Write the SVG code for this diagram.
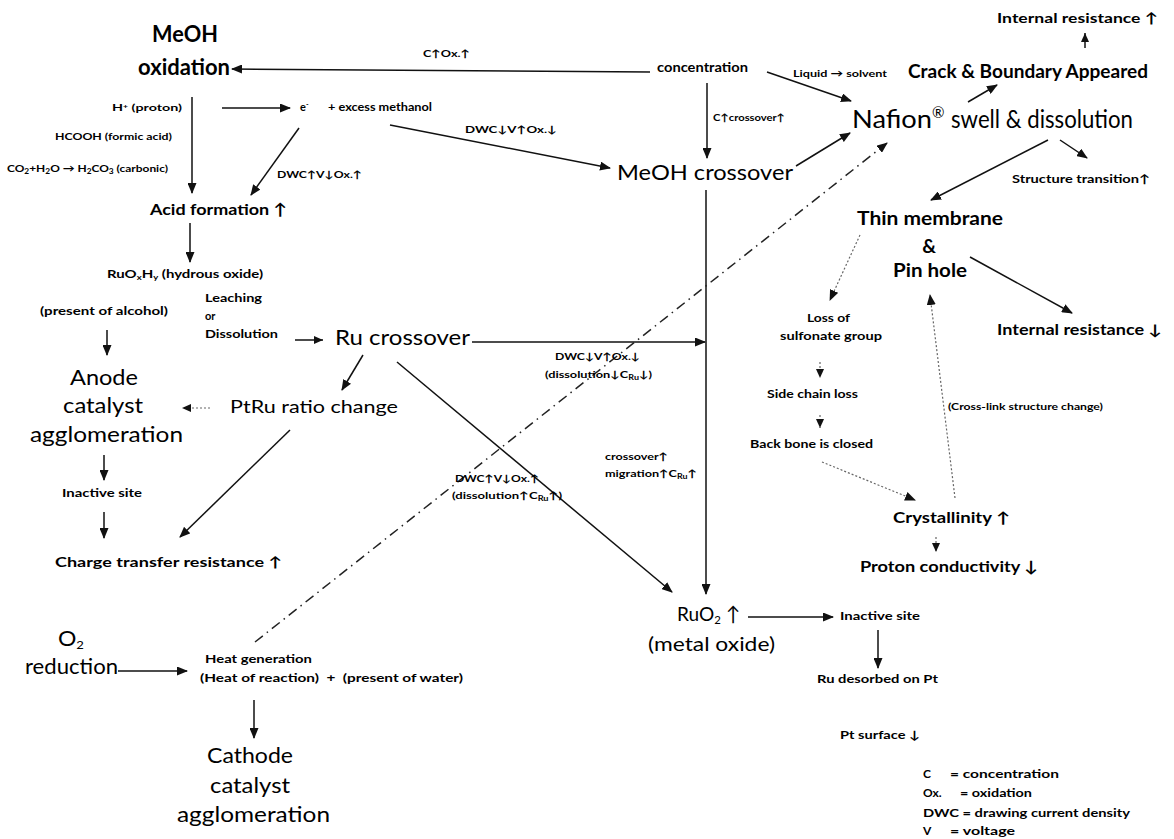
<svg xmlns="http://www.w3.org/2000/svg" width="1174" height="839" viewBox="0 0 1174 839">
<style>
text{font-family:Lato,"DejaVu Sans",sans-serif;fill:#000}
.b{font-weight:700}
.r{font-weight:400}
.s10{font-size:10px}
.s11{font-size:11px}
.s12{font-size:12px}
.ln{stroke:#111;stroke-width:1.5;fill:none}
.dt{stroke:#666;stroke-width:1.2;fill:none;stroke-dasharray:2,2}
.dd{stroke:#222;stroke-width:1.5;fill:none;stroke-dasharray:10,5,1.5,5}
</style>
<defs>
<marker id="a" markerUnits="userSpaceOnUse" markerWidth="11" markerHeight="9" refX="10" refY="4.5" orient="auto"><path d="M0,0 L11,4.5 L0,9 z" fill="#111"/></marker>
<marker id="s" markerUnits="userSpaceOnUse" markerWidth="9" markerHeight="8" refX="9" refY="4" orient="auto"><path d="M0,0 L9,4 L0,8 z" fill="#111"/></marker>
</defs>
<rect width="1174" height="839" fill="#fff"/>

<g id="connectors">
<line class="ln" x1="650" y1="72" x2="232" y2="69" marker-end="url(#a)"/>
<line class="ln" x1="707" y1="83" x2="707" y2="158" marker-end="url(#a)"/>
<line class="ln" x1="767" y1="72" x2="851" y2="101" marker-end="url(#a)"/>
<line class="ln" x1="796" y1="166" x2="850" y2="133" marker-end="url(#a)"/>
<line class="ln" x1="968" y1="102" x2="997" y2="85" marker-end="url(#a)"/>
<line class="ln" x1="1085" y1="48" x2="1085" y2="33" marker-end="url(#s)"/>
<line class="ln" x1="1060" y1="140" x2="1087" y2="158" marker-end="url(#a)"/>
<line class="ln" x1="1048" y1="140" x2="931" y2="200" marker-end="url(#a)"/>
<line class="dt" x1="860" y1="235" x2="830" y2="300" marker-end="url(#a)"/>
<line class="ln" x1="970" y1="257" x2="1072" y2="313" marker-end="url(#a)"/>
<line class="dt" x1="820" y1="362" x2="820" y2="378" marker-end="url(#s)"/>
<line class="dt" x1="820" y1="415" x2="820" y2="428" marker-end="url(#s)"/>
<line class="dt" x1="822" y1="462" x2="915" y2="500" marker-end="url(#a)"/>
<line class="dt" x1="955" y1="498" x2="930" y2="295" marker-end="url(#a)"/>
<line class="dt" x1="936" y1="537" x2="936" y2="552" marker-end="url(#s)"/>
<line class="ln" x1="192" y1="97" x2="192" y2="193" marker-end="url(#a)"/>
<line class="ln" x1="222" y1="108" x2="290" y2="108" marker-end="url(#a)"/>
<line class="ln" x1="299" y1="128" x2="251" y2="195" marker-end="url(#a)"/>
<line class="ln" x1="390" y1="125" x2="610" y2="168" marker-end="url(#a)"/>
<line class="ln" x1="190" y1="223" x2="190" y2="262" marker-end="url(#a)"/>
<line class="ln" x1="107" y1="330" x2="107" y2="355" marker-end="url(#a)"/>
<line class="ln" x1="295" y1="340" x2="323" y2="340" marker-end="url(#s)"/>
<line class="ln" x1="363" y1="355" x2="342" y2="390" marker-end="url(#a)"/>
<line class="dt" x1="210" y1="408" x2="182" y2="408" marker-end="url(#s)"/>
<line class="ln" x1="472" y1="342" x2="705" y2="342" marker-end="url(#a)"/>
<line class="ln" x1="397" y1="362" x2="672" y2="592" marker-end="url(#a)"/>
<line class="ln" x1="706" y1="190" x2="706" y2="594" marker-end="url(#a)"/>
<line class="ln" x1="290" y1="430" x2="180" y2="537" marker-end="url(#a)"/>
<line class="ln" x1="104" y1="455" x2="104" y2="480" marker-end="url(#a)"/>
<line class="ln" x1="104" y1="512" x2="104" y2="538" marker-end="url(#a)"/>
<line class="ln" x1="748" y1="617" x2="833" y2="617" marker-end="url(#a)"/>
<line class="ln" x1="878" y1="630" x2="878" y2="668" marker-end="url(#a)"/>
<line class="ln" x1="118" y1="671" x2="187" y2="671" marker-end="url(#a)"/>
<line class="ln" x1="254" y1="700" x2="254" y2="738" marker-end="url(#a)"/>
<line class="dd" x1="255" y1="642" x2="887" y2="143" marker-end="url(#a)"/>
<text class="b s10" x="423" y="57" textLength="47" lengthAdjust="spacingAndGlyphs">C↑Ox.↑</text>
<text class="b s10" x="465" y="133" textLength="92" lengthAdjust="spacingAndGlyphs">DWC↓V↑Ox.↓</text>
<text class="b s10" x="277" y="178" textLength="85" lengthAdjust="spacingAndGlyphs">DWC↑V↓Ox.↑</text>
<text class="b s10" x="713" y="121" textLength="72" lengthAdjust="spacingAndGlyphs">C↑crossover↑</text>
<text class="b s10" x="793" y="77" textLength="94" lengthAdjust="spacingAndGlyphs">Liquid → solvent</text>
<text class="b s10" x="555" y="360" textLength="85" lengthAdjust="spacingAndGlyphs">DWC↓V↑Ox.↓</text>
<text class="b s10" x="545" y="378" textLength="107" lengthAdjust="spacingAndGlyphs">(dissolution↓C<tspan font-size="7" dy="2">Ru</tspan><tspan dy="-2">↓)</tspan></text>
<text class="b s10" x="605" y="460" textLength="63" lengthAdjust="spacingAndGlyphs">crossover↑</text>
<text class="b s10" x="605" y="477" textLength="92" lengthAdjust="spacingAndGlyphs">migration↑C<tspan font-size="7" dy="2">Ru</tspan><tspan dy="-2">↑</tspan></text>
<text class="b s10" x="455" y="482" textLength="84" lengthAdjust="spacingAndGlyphs">DWC↑V↓Ox.↑</text>
<text class="b s10" x="452" y="499" textLength="110" lengthAdjust="spacingAndGlyphs">(dissolution↑C<tspan font-size="7" dy="2">Ru</tspan><tspan dy="-2">↑)</tspan></text>
<text class="b" font-size="9.5" x="948" y="410" textLength="155" lengthAdjust="spacingAndGlyphs">(Cross-link structure change)</text>
</g>

<g id="n-meoh-ox">
<text class="b" font-size="23" x="152" y="42" textLength="66" lengthAdjust="spacingAndGlyphs">MeOH</text>
<text class="b" font-size="23" x="138" y="75" textLength="92" lengthAdjust="spacingAndGlyphs">oxidation</text>
</g>
<g id="n-proton-h">
<text class="b s10" x="112" y="111" textLength="70" lengthAdjust="spacingAndGlyphs">H<tspan font-size="6" dy="-3">+</tspan><tspan dy="3"> (proton)</tspan></text>
</g>
<g id="n-hcooh">
<text class="b s10" x="55" y="140" textLength="117" lengthAdjust="spacingAndGlyphs">HCOOH (formic acid)</text>
</g>
<g id="n-co2">
<text class="b s10" x="7" y="172" textLength="161" lengthAdjust="spacingAndGlyphs">CO<tspan font-size="7" dy="2">2</tspan><tspan dy="-2">+H</tspan><tspan font-size="7" dy="2">2</tspan><tspan dy="-2">O → H</tspan><tspan font-size="7" dy="2">2</tspan><tspan dy="-2">CO</tspan><tspan font-size="7" dy="2">3</tspan><tspan dy="-2"> (carbonic)</tspan></text>
</g>
<g id="n-electron">
<text class="b s11" x="300" y="111">e<tspan font-size="7" dy="-4">-</tspan></text>
<text class="b s11" x="328" y="111" textLength="104" lengthAdjust="spacingAndGlyphs">+ excess methanol</text>
</g>
<g id="n-acid">
<text class="b" font-size="16" x="150" y="215" textLength="137" lengthAdjust="spacingAndGlyphs">Acid formation ↑</text>
</g>
<g id="n-ruoxhy">
<text class="b s11" x="107" y="278" textLength="156" lengthAdjust="spacingAndGlyphs">RuO<tspan font-size="7" dy="2">x</tspan><tspan dy="-2">H</tspan><tspan font-size="7" dy="2">y</tspan><tspan dy="-2"> (hydrous oxide)</tspan></text>
</g>
<g id="n-leaching">
<text class="b s11" x="205" y="302" textLength="57" lengthAdjust="spacingAndGlyphs">Leaching</text>
<text class="b s11" x="205" y="320">or</text>
<text class="b s11" x="205" y="338" textLength="73" lengthAdjust="spacingAndGlyphs">Dissolution</text>
</g>
<g id="n-alcohol">
<text class="b s11" x="40" y="315" textLength="128" lengthAdjust="spacingAndGlyphs">(present of alcohol)</text>
</g>
<g id="n-anode">
<text class="r" font-size="22" x="70" y="385" textLength="68" lengthAdjust="spacingAndGlyphs">Anode</text>
<text class="r" font-size="22" x="63" y="413" textLength="80" lengthAdjust="spacingAndGlyphs">catalyst</text>
<text class="r" font-size="22" x="30" y="442" textLength="153" lengthAdjust="spacingAndGlyphs">agglomeration</text>
</g>
<g id="n-inactive1">
<text class="b s11" x="62" y="497" textLength="80" lengthAdjust="spacingAndGlyphs">Inactive site</text>
</g>
<g id="n-charge">
<text class="b" font-size="14" x="55" y="567" textLength="227" lengthAdjust="spacingAndGlyphs">Charge transfer resistance ↑</text>
</g>
<g id="n-ptru">
<text class="r" font-size="18" x="230" y="413" textLength="168" lengthAdjust="spacingAndGlyphs">PtRu ratio change</text>
</g>
<g id="n-ru-crossover">
<text class="r" font-size="21" x="335" y="345" textLength="135" lengthAdjust="spacingAndGlyphs">Ru crossover</text>
</g>
<g id="n-concentration">
<text class="b" font-size="12.5" x="657" y="72" textLength="91" lengthAdjust="spacingAndGlyphs">concentration</text>
</g>
<g id="n-meoh-crossover">
<text class="r" font-size="21" x="617" y="180" textLength="176" lengthAdjust="spacingAndGlyphs">MeOH crossover</text>
</g>
<g id="n-nafion">
<text class="r" font-size="25" x="852" y="128" textLength="80" lengthAdjust="spacingAndGlyphs">Nafion</text>
<text class="r" font-size="15" x="932" y="118">®</text>
<text class="r" font-size="25" x="951" y="128" textLength="182" lengthAdjust="spacingAndGlyphs">swell &amp; dissolution</text>
</g>
<g id="n-crack">
<text class="b" font-size="18" x="908" y="78" textLength="240" lengthAdjust="spacingAndGlyphs">Crack &amp; Boundary Appeared</text>
</g>
<g id="n-ir-up">
<text class="b" font-size="14" x="997" y="23" textLength="161" lengthAdjust="spacingAndGlyphs">Internal resistance ↑</text>
</g>
<g id="n-structure">
<text class="b" font-size="11.5" x="1012" y="183" textLength="138" lengthAdjust="spacingAndGlyphs">Structure transition↑</text>
</g>
<g id="n-thin">
<text class="b" font-size="19" x="857" y="225" textLength="146" lengthAdjust="spacingAndGlyphs">Thin membrane</text>
<text class="b" font-size="19" x="929" y="253" text-anchor="middle">&amp;</text>
<text class="b" font-size="19" x="893" y="277" textLength="74" lengthAdjust="spacingAndGlyphs">Pin hole</text>
</g>
<g id="n-ir-down">
<text class="b" font-size="14.5" x="997" y="335" textLength="165" lengthAdjust="spacingAndGlyphs">Internal resistance ↓</text>
</g>
<g id="n-loss">
<text class="b s11" x="807" y="322" textLength="43" lengthAdjust="spacingAndGlyphs">Loss of</text>
<text class="b s11" x="780" y="340" textLength="102" lengthAdjust="spacingAndGlyphs">sulfonate group</text>
</g>
<g id="n-side">
<text class="b s11" x="767" y="398" textLength="91" lengthAdjust="spacingAndGlyphs">Side chain loss</text>
</g>
<g id="n-back">
<text class="b" font-size="11.5" x="750" y="448" textLength="123" lengthAdjust="spacingAndGlyphs">Back bone is closed</text>
</g>
<g id="n-cryst">
<text class="b" font-size="15" x="893" y="523" textLength="117" lengthAdjust="spacingAndGlyphs">Crystallinity ↑</text>
</g>
<g id="n-proton-cond">
<text class="b" font-size="15.5" x="860" y="572" textLength="178" lengthAdjust="spacingAndGlyphs">Proton conductivity ↓</text>
</g>
<g id="n-ruo2">
<text class="r" font-size="20" x="677" y="621" textLength="63" lengthAdjust="spacingAndGlyphs">RuO<tspan font-size="12" dy="3">2</tspan><tspan dy="-3"> ↑</tspan></text>
<text class="r" font-size="20" x="648" y="651" textLength="127" lengthAdjust="spacingAndGlyphs">(metal oxide)</text>
</g>
<g id="n-inactive2">
<text class="b s11" x="840" y="620" textLength="80" lengthAdjust="spacingAndGlyphs">Inactive site</text>
</g>
<g id="n-rudes">
<text class="b" font-size="11.5" x="817" y="683" textLength="121" lengthAdjust="spacingAndGlyphs">Ru desorbed on Pt</text>
</g>
<g id="n-ptsurf">
<text class="b" font-size="11.5" x="840" y="739" textLength="80" lengthAdjust="spacingAndGlyphs">Pt surface ↓</text>
</g>
<g id="n-o2">
<text class="r" font-size="21" x="58" y="646" textLength="26" lengthAdjust="spacingAndGlyphs">O<tspan font-size="12" dy="3">2</tspan></text>
<text class="r" font-size="21" x="25" y="674" textLength="93" lengthAdjust="spacingAndGlyphs">reduction</text>
</g>
<g id="n-heat">
<text class="b" font-size="11.5" x="205" y="663" textLength="107" lengthAdjust="spacingAndGlyphs">Heat generation</text>
<text class="b" font-size="11.5" x="200" y="682" textLength="263" lengthAdjust="spacingAndGlyphs" xml:space="preserve">(Heat of reaction)  +  (present of water)</text>
</g>
<g id="n-cathode">
<text class="r" font-size="21" x="207" y="763" textLength="86" lengthAdjust="spacingAndGlyphs">Cathode</text>
<text class="r" font-size="21" x="210" y="793" textLength="80" lengthAdjust="spacingAndGlyphs">catalyst</text>
<text class="r" font-size="21" x="177" y="822" textLength="153" lengthAdjust="spacingAndGlyphs">agglomeration</text>
</g>
<g id="legend">
<text class="b s12" x="923" y="778">C</text>
<text class="b s12" x="950" y="778" textLength="109" lengthAdjust="spacingAndGlyphs">= concentration</text>
<text class="b s12" x="923" y="797">Ox.</text>
<text class="b s12" x="960" y="797" textLength="72" lengthAdjust="spacingAndGlyphs">= oxidation</text>
<text class="b s12" x="923" y="817" textLength="207" lengthAdjust="spacingAndGlyphs">DWC = drawing current density</text>
<text class="b s12" x="923" y="835">V</text>
<text class="b s12" x="950" y="835" textLength="65" lengthAdjust="spacingAndGlyphs">= voltage</text>
</g>
</svg>
